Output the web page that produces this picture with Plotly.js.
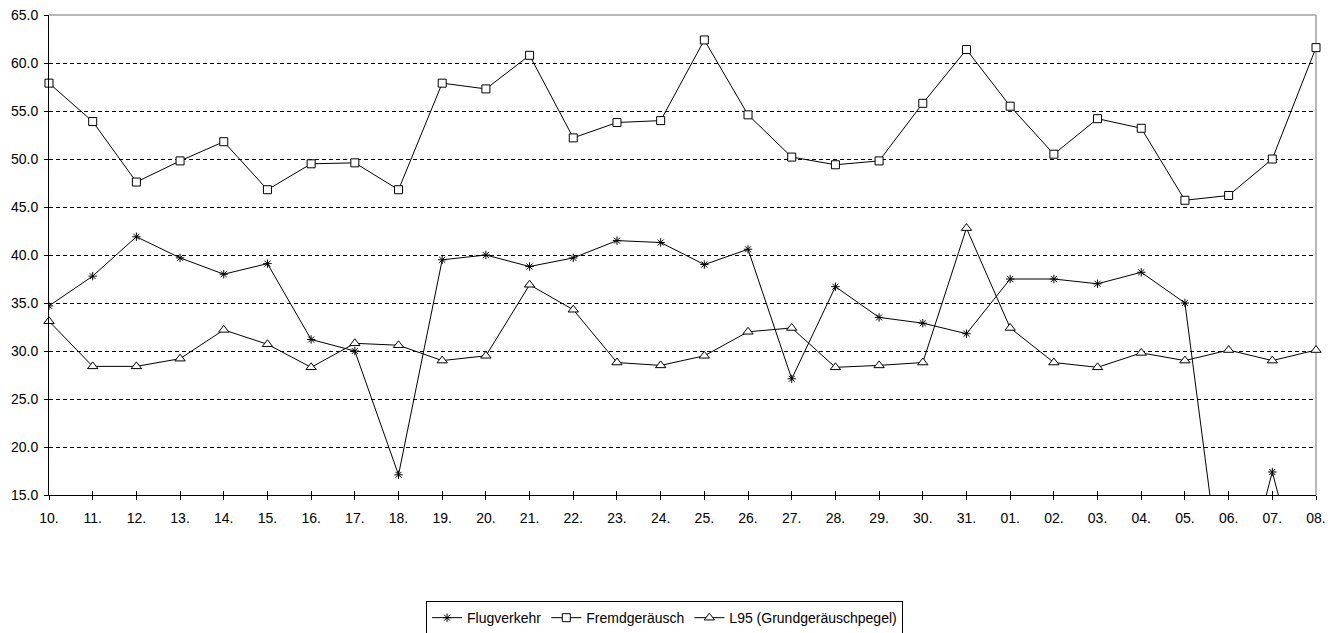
<!DOCTYPE html>
<html>
<head>
<meta charset="utf-8">
<script src="https://cdn.plot.ly/plotly-3.0.1.min.js"></script>
<style>html,body{margin:0;padding:0;background:#fff;}#chart{width:1337px;height:633px;}</style>
</head>
<body>
<div id="chart"></div>
<script>
const days = ["10.","11.","12.","13.","14.","15.","16.","17.","18.","19.","20.","21.","22.","23.","24.","25.","26.","27.","28.","29.","30.","31.","01.","02.","03.","04.","05.","06.","07.","08."];
const flugverkehr = [34.7,37.8,41.9,39.7,38.0,39.1,31.2,30.0,17.1,39.5,40.0,38.8,39.7,41.5,41.3,39.0,40.6,27.1,36.7,33.5,32.9,31.8,37.5,37.5,37.0,38.2,35.0,0,17.4,0];
const fremdgeraeusch = [57.9,53.9,47.6,49.8,51.8,46.8,49.5,49.6,46.8,57.9,57.3,60.8,52.2,53.8,54.0,62.4,54.6,50.2,49.4,49.8,55.8,61.4,55.5,50.5,54.2,53.2,45.7,46.2,50.0,61.6];
const l95 = [33.1,28.4,28.4,29.2,32.2,30.7,28.3,30.8,30.6,29.0,29.5,36.9,34.3,28.8,28.5,29.5,32.0,32.4,28.3,28.5,28.8,42.8,32.4,28.8,28.3,29.8,29.0,30.1,29.0,30.1];
const seriesNames = ["Flugverkehr","Fremdgeräusch","L95 (Grundgeräuschpegel)"];

const lineStyle = {color:'#000', width:1};
const traces = [
  {x:days, y:flugverkehr, name:seriesNames[0], type:'scatter', mode:'lines+markers', line:lineStyle,
   marker:{symbol:'asterisk-open', size:7, color:'#000', line:{color:'#000', width:1}}, cliponaxis:true},
  {x:days, y:fremdgeraeusch, name:seriesNames[1], type:'scatter', mode:'lines+markers', line:lineStyle,
   marker:{symbol:'square', size:8, color:'#fff', line:{color:'#000', width:1}}, cliponaxis:false},
  {x:days, y:l95, name:seriesNames[2], type:'scatter', mode:'lines+markers', line:lineStyle,
   marker:{symbol:'triangle-up', size:9, color:'#fff', line:{color:'#000', width:1}}, cliponaxis:false},
  // carrier for the inner half of the crossing x ticks (draws nothing)
  {x:days, y:l95, xaxis:'x2', yaxis:'y', type:'scatter', mode:'none', showlegend:false, hoverinfo:'skip'}
];

const tickFont = {family:'"Liberation Sans", Arial, sans-serif', size:14, color:'#000'};
const layout = {
  width:1337, height:633,
  margin:{l:49, r:21, t:15, b:138, autoexpand:false},
  paper_bgcolor:'#fff', plot_bgcolor:'#fff',
  showlegend:true,
  legend:{orientation:'h', x:0.2976, xanchor:'left', y:-0.221, yanchor:'top',
          bordercolor:'#000', borderwidth:1, bgcolor:'#fff',
          font:{family:'"Liberation Sans", Arial, sans-serif', size:14, color:'#000'},
          tracegroupgap:0, itemwidth:30},
  xaxis:{type:'category', range:[0, days.length-1], showline:true, linecolor:'#000', linewidth:1,
         ticks:'outside', ticklen:4, tickcolor:'#000', tickwidth:1, showgrid:false, zeroline:false,
         tickfont:tickFont, ticklabelstandoff:6, fixedrange:true, automargin:false},
  xaxis2:{type:'category', overlaying:'x', anchor:'y', side:'bottom', range:[0, days.length-1],
          showline:false, ticks:'inside', ticklen:4, tickcolor:'#000', tickwidth:1,
          showticklabels:false, showgrid:false, zeroline:false, fixedrange:true},
  yaxis:{range:[15,65], dtick:5, tick0:15, tickformat:'.1f', showline:true, linecolor:'#000', linewidth:1,
         ticks:'outside', ticklen:4, tickcolor:'#000', tickwidth:1,
         showgrid:true, gridcolor:'#000', gridwidth:1, griddash:'4px,3px', zeroline:false,
         tickfont:tickFont, ticklabelstandoff:3, fixedrange:true, automargin:false},
  shapes:[
    {type:'line', xref:'paper', yref:'paper', x0:0, x1:1, y0:1, y1:1, line:{color:'#a0a0a0', width:1.5}, layer:'above'},
    {type:'line', xref:'paper', yref:'paper', x0:1, x1:1, y0:0, y1:1, line:{color:'#a0a0a0', width:1.5}, layer:'below'}
  ]
};
Plotly.newPlot('chart', traces, layout, {displayModeBar:false, staticPlot:true});
</script>
</body>
</html>
